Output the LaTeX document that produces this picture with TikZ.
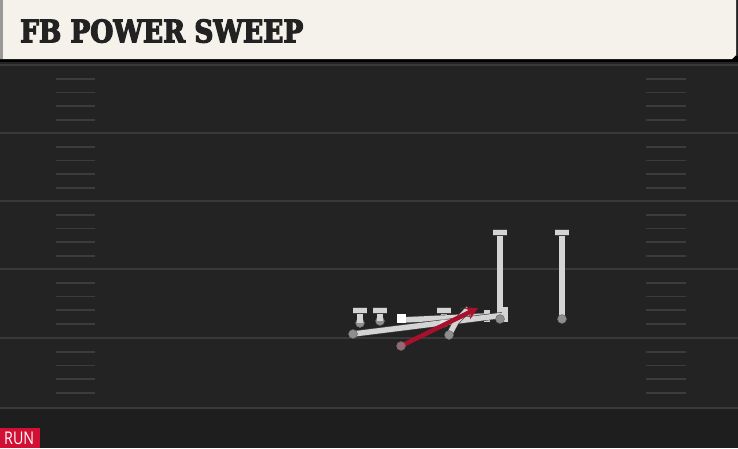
\documentclass[tikz,border=0pt]{standalone}
\usepackage{fontspec}
\font\titlefnt="DejaVu Serif Condensed Bold:embolden=4" at 30pt
\newfontfamily\tagfont{Open Sans}
\usetikzlibrary{arrows.meta}
\definecolor{fieldbg}{HTML}{232323}
\definecolor{fieldlow}{HTML}{1E1E1E}
\definecolor{fieldline}{HTML}{393939}
\definecolor{hashcol}{HTML}{3C3C3C}
\definecolor{cream}{HTML}{F5F2EB}
\definecolor{routegray}{HTML}{D4D4D4}
\definecolor{dotgray}{HTML}{8E8E8E}
\definecolor{runred}{HTML}{D20F34}
\definecolor{carry}{HTML}{A8102C}
\definecolor{titletext}{HTML}{222222}
\tikzset{
  player/.style={circle, fill=dotgray, draw=black!60, line width=0.4pt, minimum size=9pt, inner sep=0pt},
  ghost/.style={circle, fill=white, fill opacity=0.35, minimum size=9pt, inner sep=0pt},
  ball/.style={rectangle, fill=white, minimum size=9pt, inner sep=0pt},
  route/.style={draw=black!75, double=routegray, double distance=5.4pt, line width=0.6pt, line cap=butt},
  runroute/.style={draw=carry, line width=4.5pt, -{Stealth[length=12pt, width=13pt]}},
  hash/.style={draw=hashcol, line width=1.6pt},
  yardline/.style={draw=fieldline, line width=1.6pt}
}
\begin{document}
\begin{tikzpicture}[x=1pt, y=-1pt]
\useasboundingbox (0,0) rectangle (738,448);
% background
\fill[fieldbg] (0,0) rectangle (738,448);
\fill[fieldlow] (0,408) rectangle (738,448);
% yard lines
\foreach \yy in {65,133,201,269,338,408} {
  \draw[yardline] (0,\yy) -- (738,\yy);
}
% hashes
\foreach \base in {65,133,201,269,338} {
  \foreach \off in {14,27.5,41,55} {
    \draw[hash] (56,\base+\off) -- (95,\base+\off);
    \draw[hash] (646,\base+\off) -- (686,\base+\off);
  }
}
% title bar
\fill[black] (0,56) rectangle (738,62);
\fill[cream] (0,0) -- (736,0) -- (736,55) -- (732,59) -- (0,59) -- cycle;
\fill[black!40] (0,0) rectangle (3,59);
\node[anchor=south west, inner sep=0pt, text=titletext] (title) at (20,43)
  {\resizebox{283pt}{23pt}{\titlefnt FB POWER SWEEP}};
% RUN tag
\fill[runred] (0,428) rectangle (40,448);
\node[anchor=south west, inner sep=0pt, text=white] (tag) at (4,444.5)
  {\resizebox{30pt}{12.5pt}{\tagfont RUN}};
% positions
\coordinate (p1) at (360,323);
\coordinate (p1t) at (360,310.5);
\coordinate (p1a) at (353,310.5);
\coordinate (p1b) at (367,310.5);
\coordinate (p2) at (380,321);
\coordinate (p2t) at (380,310.5);
\coordinate (p2a) at (373,310.5);
\coordinate (p2b) at (387,310.5);
\coordinate (p5) at (444,323);
\coordinate (p5t) at (444,310.5);
\coordinate (p5a) at (437,310.5);
\coordinate (p5b) at (451,310.5);
\coordinate (w1) at (500,319);
\coordinate (w1t) at (500,232.5);
\coordinate (w1a) at (493,232.5);
\coordinate (w1b) at (507,232.5);
\coordinate (w2) at (562,319);
\coordinate (w2t) at (562,232.5);
\coordinate (w2a) at (555,232.5);
\coordinate (w2b) at (569,232.5);
\coordinate (te) at (353,334);
\coordinate (teend) at (505,315);
\coordinate (tea) at (505,307);
\coordinate (teb) at (505,322);
\coordinate (cs) at (401.5,320);
\coordinate (cend) at (487,316);
\coordinate (ca) at (487,310);
\coordinate (cb) at (487,322);
\coordinate (qb) at (449,335);
\coordinate (qbm) at (456,322);
\coordinate (qbe) at (469,308);
\coordinate (rb) at (401,346);
\coordinate (rbe) at (478,308);
% linemen circles under their stems
\node[player] (n1) at (p1) {};
\node[player] (n2) at (p2) {};
\node[ghost] (n4) at (423,322) {};
% routes
\draw[route] (w1) -- (w1t);
\draw[route] (w1a) -- (w1b);
\draw[route] (w2) -- (w2t);
\draw[route] (w2a) -- (w2b);
\draw[route] (p1) -- (p1t);
\draw[route] (p1a) -- (p1b);
\draw[route] (p2) -- (p2t);
\draw[route] (p2a) -- (p2b);
\draw[route] (p5) -- (p5t);
\draw[route] (p5a) -- (p5b);
\draw[route] (cs) -- (cend);
\draw[route] (ca) -- (cb);
\draw[route] (te) -- (teend);
\draw[route] (tea) -- (teb);
\draw[route, -{Straight Barb[length=6pt, width=13pt]}] (qb) -- (qbm) -- (qbe);
% other players
\node[ghost] (n5) at (p5) {};
\node[player] (nw1) at (w1) {};
\node[player] (nw2) at (w2) {};
\node[player] (nte) at (te) {};
\node[player] (nqb) at (qb) {};
\node[ball] (center) at (401.5,318) {};
% ball carrier
\draw[runroute] (rb) -- (rbe);
\node[player, fill=dotgray!70!carry] (nrb) at (rb) {};
\end{tikzpicture}
\end{document}
